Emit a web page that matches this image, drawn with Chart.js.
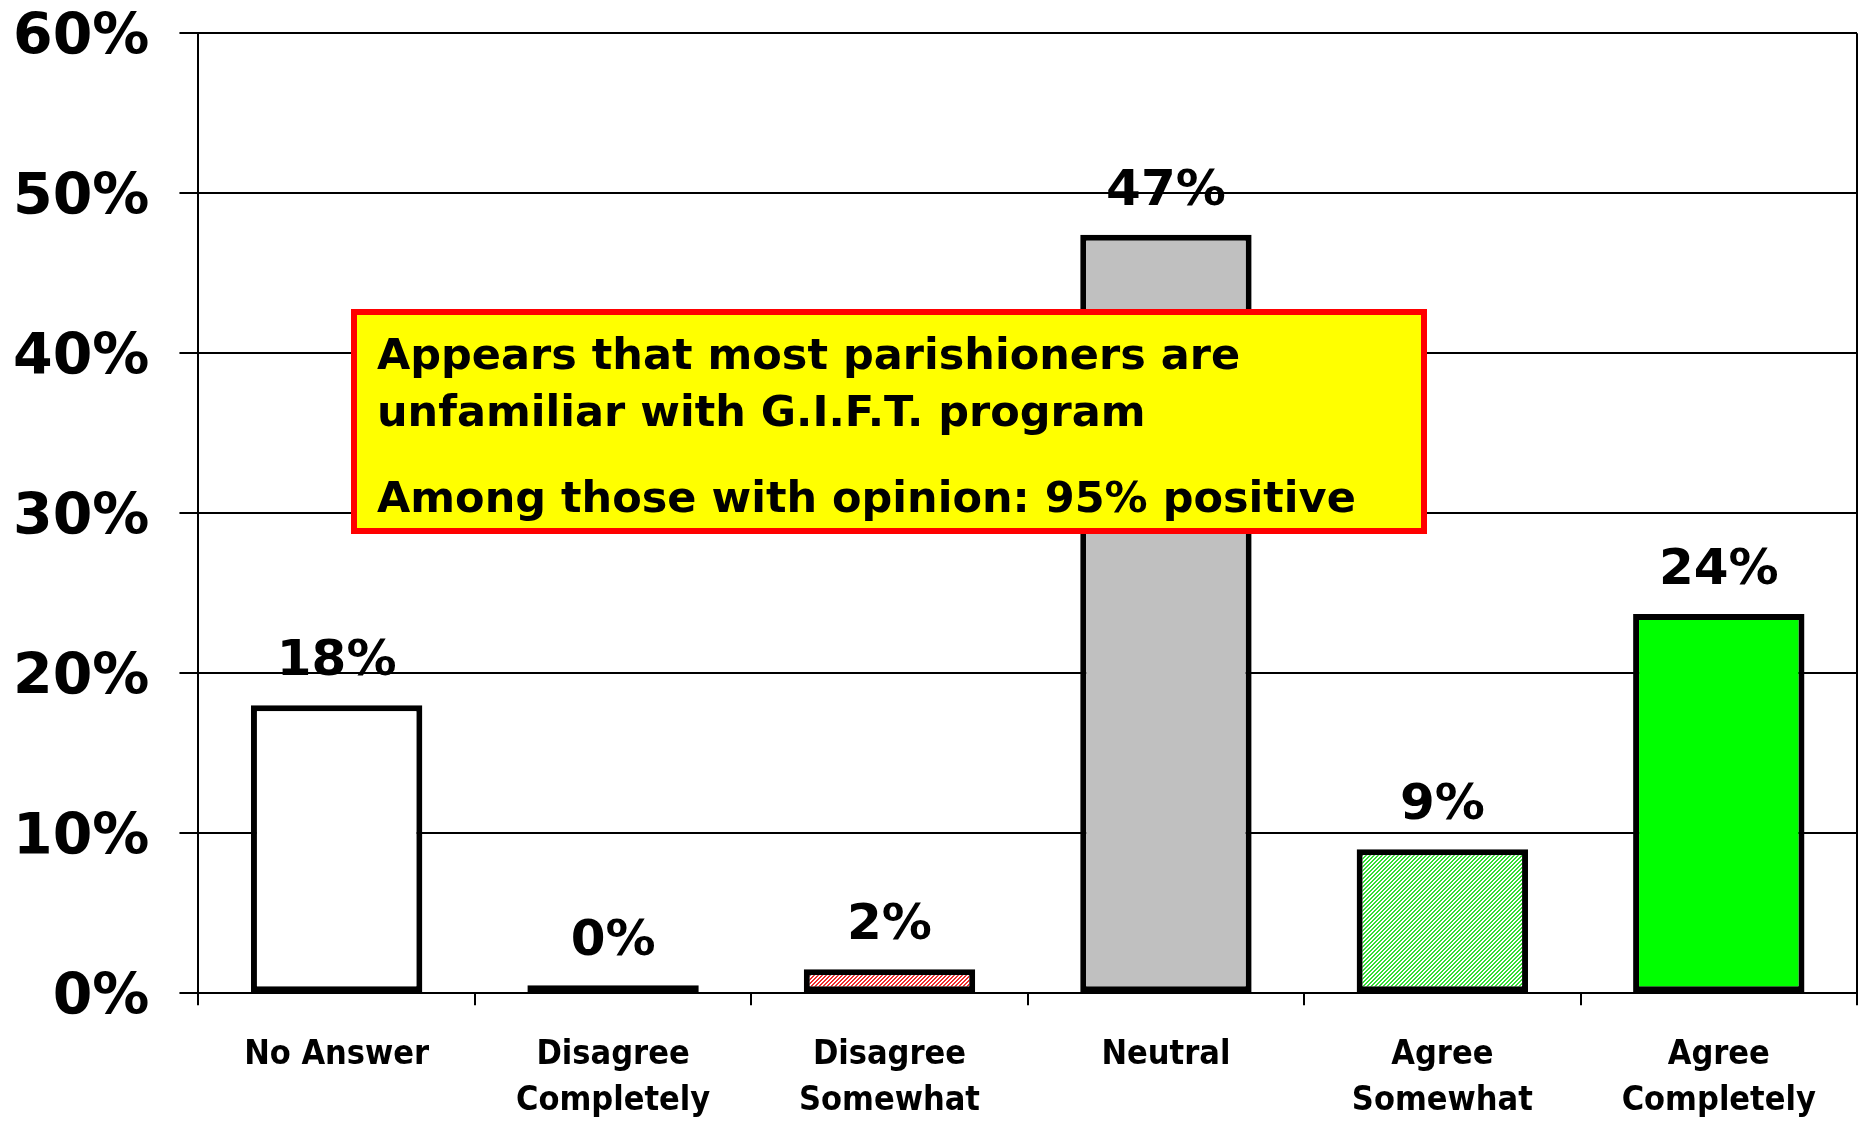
<!DOCTYPE html>
<html>
<head>
<meta charset="utf-8">
<script src="https://cdn.jsdelivr.net/npm/chart.js@4.4.1/dist/chart.umd.min.js"></script>
<style>
    html, body { margin: 0; padding: 0; background: #fff; overflow: hidden; }
    canvas { display: block; margin-top: -31px; }
</style>
</head>
<body>
<canvas id="grafica-gift" width="1858" height="1166"></canvas>
<script>
var categorias = [
    'No Answer',
    ['Disagree', 'Completely'],
    ['Disagree', 'Somewhat'],
    'Neutral',
    ['Agree', 'Somewhat'],
    ['Agree', 'Completely']
];
var valores = [18.0, 0.5, 1.5, 47.4, 9.0, 23.7];
var etiquetas = ['18%', '0%', '2%', '47%', '9%', '24%'];
var ticksY = [0, 10, 20, 30, 40, 50, 60];
var nota = [
    'Appears that most parishioners are',
    'unfamiliar with G.I.F.T. program',
    'Among those with opinion: 95% positive'
];

// el canvas esta subido 31px con css
var desp = 31;

// trama diagonal fina (como el relleno de Excel)
function crearTrama(color) {
    var c = document.createElement('canvas');
    c.width = 4;
    c.height = 4;
    var g = c.getContext('2d');
    g.fillStyle = '#ffffff';
    g.fillRect(0, 0, 4, 4);
    g.fillStyle = color;
    for (var i = 0; i < 4; i++) {
        g.fillRect(i, 3 - i, 1, 1);
        g.fillRect((i + 1) % 4, 3 - i, 1, 1);
    }
    return g.createPattern(c, 'repeat');
}

var colores = [
    '#ffffff',
    '#000000',
    crearTrama('#ee2a2a'),
    '#c0c0c0',
    crearTrama('#33dd33'),
    '#00ff00'
];

var fuente = '"DejaVu Sans", Verdana, sans-serif';
var fuenteCond = '"DejaVu Sans Condensed", "DejaVu Sans", sans-serif';

var pluginEtiquetas = {
    id: 'etiquetas',
    afterDatasetsDraw: function(chart) {
        var ctx = chart.ctx;
        var area = chart.chartArea;

        // borde derecho del area
        ctx.save();
        ctx.strokeStyle = '#000';
        ctx.lineWidth = 2;
        ctx.beginPath();
        ctx.moveTo(area.right, area.top);
        ctx.lineTo(area.right, area.bottom);
        ctx.stroke();

        // cuadro de nota
        var bx = 351, by = 309 + desp, bw = 1076, bh = 225;
        ctx.fillStyle = '#ffff00';
        ctx.fillRect(bx, by, bw, bh);
        ctx.strokeStyle = '#ff0000';
        ctx.lineWidth = 6;
        ctx.strokeRect(bx + 3, by + 3, bw - 6, bh - 6);
        ctx.fillStyle = '#000';
        ctx.font = 'bold 43px ' + fuente;
        ctx.textAlign = 'left';
        ctx.textBaseline = 'middle';
        ctx.fillText(nota[0], 377, 358 + desp);
        ctx.fillText(nota[1], 377, 415 + desp);
        ctx.fillText(nota[2], 377, 501 + desp);

        // valores sobre las barras
        var meta = chart.getDatasetMeta(0);
        ctx.font = 'bold 50px ' + fuente;
        ctx.textAlign = 'center';
        ctx.textBaseline = 'alphabetic';
        meta.data.forEach(function(barra, i) {
            ctx.fillText(etiquetas[i], barra.x, barra.y - 30);
        });
        ctx.restore();
    }
};

var ctx = document.getElementById('grafica-gift').getContext('2d');
new Chart(ctx, {
    type: 'bar',
    data: {
        labels: categorias,
        datasets: [{
            data: valores,
            backgroundColor: colores,
            borderColor: '#000',
            borderWidth: 6,
            borderSkipped: false,
            categoryPercentage: 1,
            barPercentage: 0.62
        }]
    },
    options: {
        responsive: false,
        animation: false,
        layout: { padding: { left: -17, right: 1, top: 0, bottom: -16 } },
        plugins: {
            legend: { display: false },
            tooltip: { enabled: false }
        },
        scales: {
            x: {
                offset: true,
                grid: {
                    offset: true,
                    drawOnChartArea: false,
                    drawTicks: true,
                    tickLength: 12,
                    color: '#000',
                    lineWidth: 2
                },
                border: { display: true, color: '#000', width: 2 },
                ticks: {
                    color: '#000',
                    padding: 27,
                    maxRotation: 0,
                    autoSkip: false,
                    font: { family: fuenteCond, weight: 'bold', size: 34, lineHeight: 1.35 }
                }
            },
            y: {
                min: ticksY[0],
                max: ticksY[ticksY.length - 1],
                afterBuildTicks: function(eje) {
                    eje.ticks = ticksY.map(function(v) { return { value: v }; });
                },
                grid: {
                    color: '#000',
                    lineWidth: 2,
                    tickLength: 19
                },
                border: { display: true, color: '#000', width: 2 },
                ticks: {
                    color: '#000',
                    padding: 30,
                    labelOffset: 6,
                    font: { family: fuente, weight: 'bold', size: 57 },
                    callback: function(v) { return v + '%'; }
                }
            }
        }
    },
    plugins: [pluginEtiquetas]
});
</script>
</body>
</html>
